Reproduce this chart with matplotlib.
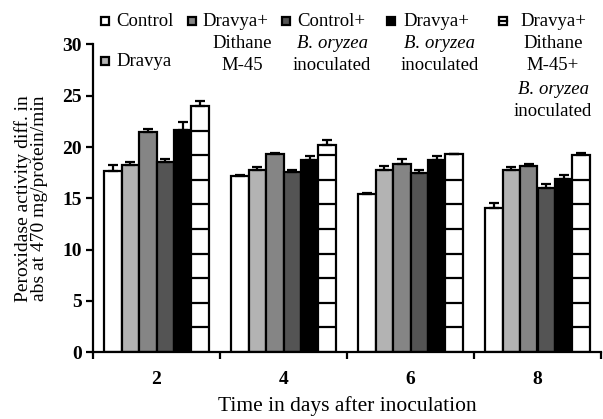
import numpy as np
import matplotlib
matplotlib.use("Agg")
import matplotlib.pyplot as plt
from matplotlib.patches import Rectangle

plt.rcParams["font.family"] = ["Liberation Serif", "DejaVu Serif"]

# data
days = ["2", "4", "6", "8"]
control = [17.7, 17.2, 15.4, 14.0]
dravya = [18.2, 17.8, 17.8, 17.8]
dravya_dithane = [21.5, 19.3, 18.3, 18.1]
control_bo = [18.5, 17.6, 17.5, 16.0]
dravya_bo = [21.7, 18.7, 18.7, 16.9]
dravya_dithane_bo = [24.0, 20.2, 19.3, 19.2]

err_control = [0.55, 0.05, 0.15, 0.5]
err_dravya = [0.3, 0.25, 0.3, 0.25]
err_dravya_dithane = [0.3, 0.15, 0.5, 0.25]
err_control_bo = [0.3, 0.2, 0.3, 0.4]
err_dravya_bo = [0.7, 0.4, 0.4, 0.35]
err_dravya_dithane_bo = [0.5, 0.5, 0.0, 0.25]

series = [control, dravya, dravya_dithane, control_bo, dravya_bo, dravya_dithane_bo]
errors = [err_control, err_dravya, err_dravya_dithane, err_control_bo,
          err_dravya_bo, err_dravya_dithane_bo]
colors = ["white", "#b3b3b3", "#858585", "#545454", "black", "white"]

W, H = 603, 419
fig = plt.figure(figsize=(W / 100, H / 100), dpi=100)
ax = fig.add_axes([93 / W, 1 - 352 / H, (601 - 93) / W, (352 - 44.5) / H])

x = np.arange(len(days))
bw = 0.137
n = len(series)
for i, (vals, err, col) in enumerate(zip(series, errors, colors)):
    pos = x + (i - (n - 1) / 2) * bw
    bars = ax.bar(pos, vals, bw, color=col, edgecolor="black", linewidth=1.6, zorder=2)
    ax.errorbar(pos, vals, yerr=[np.zeros(len(err)), err], fmt="none",
                ecolor="black", elinewidth=1.6, capsize=3.5, capthick=1.6, zorder=3)
    if i == n - 1:
        # horizontal stripes inside the last series' bars
        for b in bars:
            h = b.get_height()
            ys = np.arange(2.4, h - 0.6, 2.4)
            ax.hlines(ys, b.get_x(), b.get_x() + b.get_width(), colors="black",
                      linewidth=1.6, zorder=3)

ax.set_xlim(-0.5, 3.5)
ax.set_ylim(0, 30)
ax.set_yticks(np.arange(0, 31, 5))
ax.set_xticks(np.arange(-0.5, 3.6, 1.0))
ax.set_xticklabels([])
ax.set_xticks(x, minor=True)
ax.set_xticklabels(days, minor=True, fontsize=14, fontweight="bold")
ax.tick_params(axis="x", which="minor", length=0, pad=14)
ax.tick_params(axis="x", which="major", length=5, width=1.6, direction="out")
ax.tick_params(axis="y", length=5, width=1.6, direction="out", labelsize=14, pad=3)
for lab in ax.get_yticklabels():
    lab.set_fontweight("bold")
for s in ["top", "right"]:
    ax.spines[s].set_visible(False)
for s in ["left", "bottom"]:
    ax.spines[s].set_linewidth(1.6)
ax.spines["bottom"].set_clip_on(False)

ax.set_ylabel("Peroxidase activity diff. in\nabs at 470 mg/protein/min", fontsize=14,
              linespacing=0.95)
ax.yaxis.set_label_coords(-0.088, 0.5)
ax.set_xlabel("Time in days after inoculation", fontsize=15.5)
ax.xaxis.set_label_coords(0.5, -0.145)


# custom legend laid out like the original
def fx(px):
    return px / W


def fy(py):
    return 1 - py / H


def marker(px, py, col, stripe=False):
    s = 8.5
    fig.patches.append(Rectangle((fx(px - s / 2), fy(py + s / 2)), s / W, s / H,
                                 facecolor=col, edgecolor="black", linewidth=1.6,
                                 transform=fig.transFigure, figure=fig))
    if stripe:
        fig.lines.append(plt.Line2D([fx(px - s / 2), fx(px + s / 2)], [fy(py), fy(py)],
                                    color="black", linewidth=1.6,
                                    transform=fig.transFigure, figure=fig))


rows = [21, 44, 66, 89, 111]
fs = 13.5


def entry(mx, tx, cx, col, items, stripe=False):
    marker(mx, rows[0], col, stripe)
    for k, (r, (txt, it)) in enumerate(zip(rows, items)):
        style = "italic" if it else "normal"
        if k == 0:
            fig.text(fx(tx), fy(r), txt, ha="left", va="center", fontsize=fs, style=style)
        else:
            fig.text(fx(cx), fy(r), txt, ha="center", va="center", fontsize=fs, style=style)


entry(105, 116, 0, colors[0], [("Control", False)])
marker(105, 61, colors[1])
fig.text(fx(116), fy(61), "Dravya", ha="left", va="center", fontsize=fs)

entry(192, 202, 242, colors[2], [("Dravya+", False), ("Dithane", False), ("M-45", False)])
entry(286, 297, 332, colors[3],
      [("Control+", False), ("B. oryzea", True), ("inoculated", False)])
entry(391, 403, 440, colors[4],
      [("Dravya+", False), ("B. oryzea", True), ("inoculated", False)])
entry(503, 520, 553, colors[5],
      [("Dravya+", False), ("Dithane", False), ("M-45+", False),
       ("B. oryzea", True), ("inoculated", False)], stripe=True)

fig.savefig("out.png", dpi=100)
